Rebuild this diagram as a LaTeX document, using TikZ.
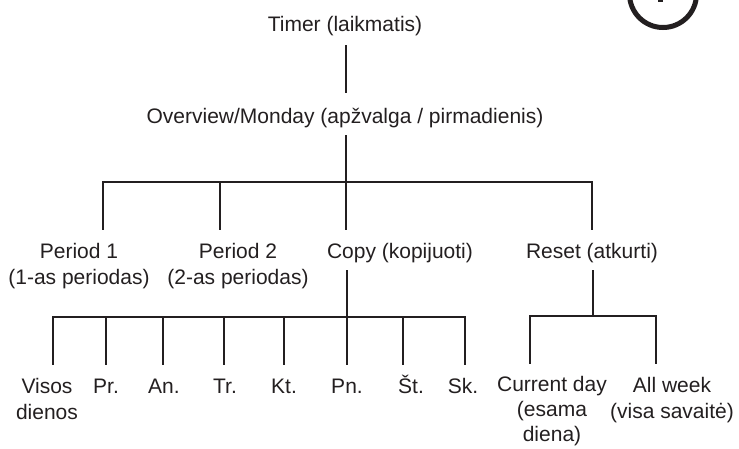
\documentclass[tikz,border=0pt]{standalone}
\usepackage{fontspec}
\setmainfont{Liberation Sans}
\definecolor{ink}{HTML}{231F20}
\begin{document}
\begin{tikzpicture}[x=1pt,y=-1pt,
  lbl/.style={font=\fontsize{21}{26}\selectfont, text=ink, inner sep=0pt, align=center, anchor=base},
  link/.style={draw=ink, line width=2.8pt},
  bar/.style={draw=ink, line width=2.8pt, line cap=rect}]
\useasboundingbox (0,0) rectangle (739,448);
% badge circle (cut by the top edge)
\draw[ink, line width=5pt] (663,-6) circle (33.5);
\fill[ink] (657.5,0) rectangle (662.5,1.6);

% labels (anchor = baseline of the last line)
\node[lbl] (timer) at (345,31) {Timer (laikmatis)};
\node[lbl] (over) at (345,123.5) {Overview/Monday (apžvalga / pirmadienis)};
\node[lbl] (p1) at (79,284) {Period 1\\(1-as periodas)};
\node[lbl] (p2) at (238,284) {Period 2\\(2-as periodas)};
\node[lbl] (copy) at (400,258) {Copy (kopijuoti)};
\node[lbl] (reset) at (592,258) {Reset (atkurti)};
\node[lbl] (visos) at (47,419) {Visos\\dienos};
\node[lbl] (pr) at (106,393) {Pr.};
\node[lbl] (an) at (164,393) {An.};
\node[lbl] (tr) at (225,393) {Tr.};
\node[lbl] (kt) at (284,393) {Kt.};
\node[lbl] (pn) at (347,393) {Pn.};
\node[lbl] (st) at (411,393) {Št.};
\node[lbl] (sk) at (463,393) {Sk.};
\node[lbl, font=\fontsize{21}{25}\selectfont] (cur) at (552,441) {Current day\\(esama\\diena)};
\node[lbl] (all) at (672,418) {All week\\(visa savaitė)};

% connector end points
\coordinate (t0) at (346,45);
\coordinate (t1) at (346,93);
\coordinate (o0) at (346,135);
\coordinate (o1) at (346,182);
\coordinate (bL) at (103,182);
\coordinate (bR) at (592,182);
\coordinate (e1) at (103,230);
\coordinate (e2) at (220,230);
\coordinate (e3) at (346,230);
\coordinate (e4) at (592,230);
\coordinate (c0) at (347,270);
\coordinate (c1) at (347,317);
\coordinate (cL) at (53,317);
\coordinate (cR) at (465,317);
\coordinate (r0) at (593,270);
\coordinate (r1) at (593,316);
\coordinate (rL) at (530,316);
\coordinate (rR) at (656,316);

\draw[link] (t0) -- (t1);
\draw[link] (o0) -- (o1);
\draw[bar] (bL) -- (bR);
\foreach \e in {e1,e2,e3,e4} \draw[link] (\e |- bL) -- (\e);
\draw[link] (c0) -- (c1);
\draw[bar] (cL) -- (cR);
\foreach \x in {53,106,163,224,284,347,403,465}
  \draw[link] (\x,317) -- (\x,365);
\draw[link] (r0) -- (r1);
\draw[bar] (rL) -- (rR);
\draw[link] (rL) -- +(0,48);
\draw[link] (rR) -- +(0,48);
\end{tikzpicture}
\end{document}
